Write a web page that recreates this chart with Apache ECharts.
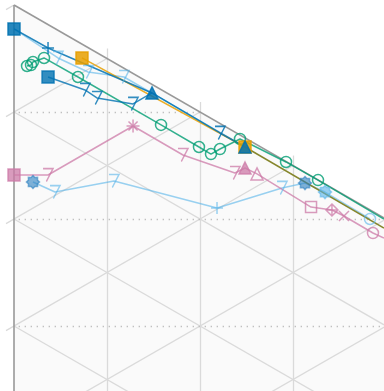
<!DOCTYPE html>
<html><head><meta charset="utf-8">
<script src="https://cdn.jsdelivr.net/npm/echarts@6/dist/echarts.min.js"></script>
<style>html,body{margin:0;padding:0;background:#fff}#c{width:384px;height:391px}</style>
</head><body><div id="c"></div>
<script>
// Values in lattice units: u = steps across (vertical grid lines), v = steps down (left edge ticks)
const blueA      = [[0,0.224],[0.366,0.402],[1.484,0.822],[2.215,1.196],[2.484,1.327]];
const blueAMarks = ['sqf','plus','trif','seven','trif'];
const blueB      = [[0.366,0.673],[0.763,0.794],[0.892,0.869],[1.280,0.925],[1.484,0.822]];
const blueBMarks = ['sqf','seven','seven','seven','none'];
const skyA       = [[0,0.224],[0.473,0.495],[0.796,0.626],[1.183,0.673],[2.484,1.327]];
const skyAMarks  = ['none','seven','seven','seven','none'];
const orangeA    = [[0.731,0.495],[2.484,1.327]];
const orangeMarks= ['sqf','sqf'];
const oliveA     = [[2.484,1.327],[3.978,2.084]];
const greenA     = [[0.140,0.570],[0.183,0.561],[0.204,0.533],[0.323,0.495],[0.688,0.673],[1.581,1.121],[1.989,1.327],[2.118,1.393],[2.215,1.346],[2.430,1.252],[2.925,1.467],[3.269,1.636],[3.978,2.0]];
const greenMarks = ['circo','circo','circo','circo','circo','circo','circo','circo','circo','circo','circo','circo','none'];
const pinkA      = [[0,1.589],[0.366,1.589],[1.280,1.131],[1.817,1.402],[2.376,1.570],[2.484,1.523],[2.613,1.579],[3.194,1.888],[3.419,1.916],[3.548,1.972],[3.860,2.131],[3.978,2.178]];
const pinkMarks  = ['sqf','seven','ast','seven','seven','trif','trio','sqo','diax','x','circo','none'];
const skyB       = [[0.204,1.654],[0.441,1.748],[1.075,1.645],[2.183,1.897],[2.882,1.710],[3.129,1.664],[3.344,1.748],[3.828,2.0]];
const skyBMarks  = ['gearD','seven','seven','plus','seven','gearD','gear','circo'];

const XMIN=-14/93, XMAX=370/93, YMIN=-5/107, YMAX=386/107;

function starPath(n,r1,r2){let s='path://';for(let i=0;i<2*n;i++){const r=i%2?r2:r1;const a=Math.PI*i/n;s+=(i?'L':'M')+(10+r*Math.sin(a)).toFixed(2)+','+(10-r*Math.cos(a)).toFixed(2)+' ';}return s+'Z';}
const MK = {
  sqf:{symbol:'rect',size:12,fill:true},
  sqo:{symbol:'rect',size:11,fill:false},
  trif:{symbol:'triangle',size:12,fill:true},
  trio:{symbol:'triangle',size:12,fill:false},
  circo:{symbol:'circle',size:11,fill:false},
  plus:{symbol:'path://M5,0 L5,10 M0,5 L10,5',size:12,fill:false},
  x:{symbol:'path://M0,0 L10,10 M10,0 L0,10',size:10,fill:false},
  ast:{symbol:'path://M5,0 L5,10 M0,5 L10,5 M1.5,1.5 L8.5,8.5 M8.5,1.5 L1.5,8.5',size:13,fill:false},
  diax:{symbol:'path://M5,0 L10,5 L5,10 L0,5 Z M5,0 L5,10 M0,5 L10,5',size:12,fill:false},
  seven:{symbol:'path://M0,0 L9,0 L3,13',size:[10,13],fill:false},
  gear:{symbol:starPath(8,10,7.5),size:13,fill:true},
  gearD:{symbol:starPath(8,10,7.5),size:13,fill:true,color:'#2a7fc0'},
  none:{symbol:'none',size:0,fill:false}
};

function mkSeries(data,marks,color,opacity,width){
  return {type:'line',z:5,silent:true,animation:false,
    lineStyle:{color:color,width:width||1.5,opacity:opacity},
    data:data.map((p,i)=>{const m=MK[marks?marks[i]:'none'];const c=m.color||color;
      return {value:p,symbol:m.symbol,symbolSize:m.size,
        itemStyle:{color:m.fill?c:'rgba(0,0,0,0)',borderColor:c,borderWidth:1.5,opacity:opacity}};})};
}

// lattice decoration
const grid=[], dotted=[];
for(let m=1;m<=3;m++) grid.push({coords:[[m,m/2-0.093],[m,YMAX]]});
for(let k=1;k<=4;k++) grid.push({coords:[[0,k],[XMAX,k+XMAX/2]]});
for(let k=0;k<=6;k++) grid.push({coords:[[-0.086,k+0.043],[k,k/2]]});
for(let k=1;k<=3;k++) dotted.push({coords:[[0.05,k],[Math.min(XMAX,2*k),k]]});
const edges=[{coords:[[0,0],[XMAX,XMAX/2]]},{coords:[[0,0],[0,YMAX]]}];

const chart=echarts.init(document.getElementById('c'));
chart.setOption({
  animation:false,
  grid:{left:0,right:0,top:0,bottom:0},
  xAxis:{type:'value',min:XMIN,max:XMAX,show:false},
  yAxis:{type:'value',min:YMIN,max:YMAX,inverse:true,show:false},
  series:[
    {type:'custom',silent:true,z:0,data:[[0,0]],renderItem:(p,api)=>({type:'polygon',
      shape:{points:[api.coord([0,0]),api.coord([XMAX,XMAX/2]),api.coord([XMAX,YMAX]),api.coord([0,YMAX])]},
      style:{fill:'#fafafa'}})},
    {type:'lines',coordinateSystem:'cartesian2d',silent:true,z:1,data:grid,lineStyle:{color:'#dadada',width:1.3,opacity:1}},
    {type:'lines',coordinateSystem:'cartesian2d',silent:true,z:1,data:dotted,lineStyle:{color:'#bdbdbd',width:1.3,type:[1.3,4.7],opacity:1}},
    {type:'lines',coordinateSystem:'cartesian2d',silent:true,z:2,data:edges,lineStyle:{color:'#999',width:1.6,opacity:1}},
    mkSeries(skyA,skyAMarks,'#56B4E9',0.6),
    mkSeries(skyB,skyBMarks,'#56B4E9',0.6),
    mkSeries(pinkA,pinkMarks,'#CC79A7',0.75),
    mkSeries(greenA,greenMarks,'#009E73',0.8),
    mkSeries(oliveA,null,'#86862c',1),
    mkSeries(orangeA,orangeMarks,'#E69F00',0.85),
    mkSeries(blueB,blueBMarks,'#0072B2',0.8),
    mkSeries(blueA,blueAMarks,'#0072B2',0.85)
  ]
});
</script></body></html>
